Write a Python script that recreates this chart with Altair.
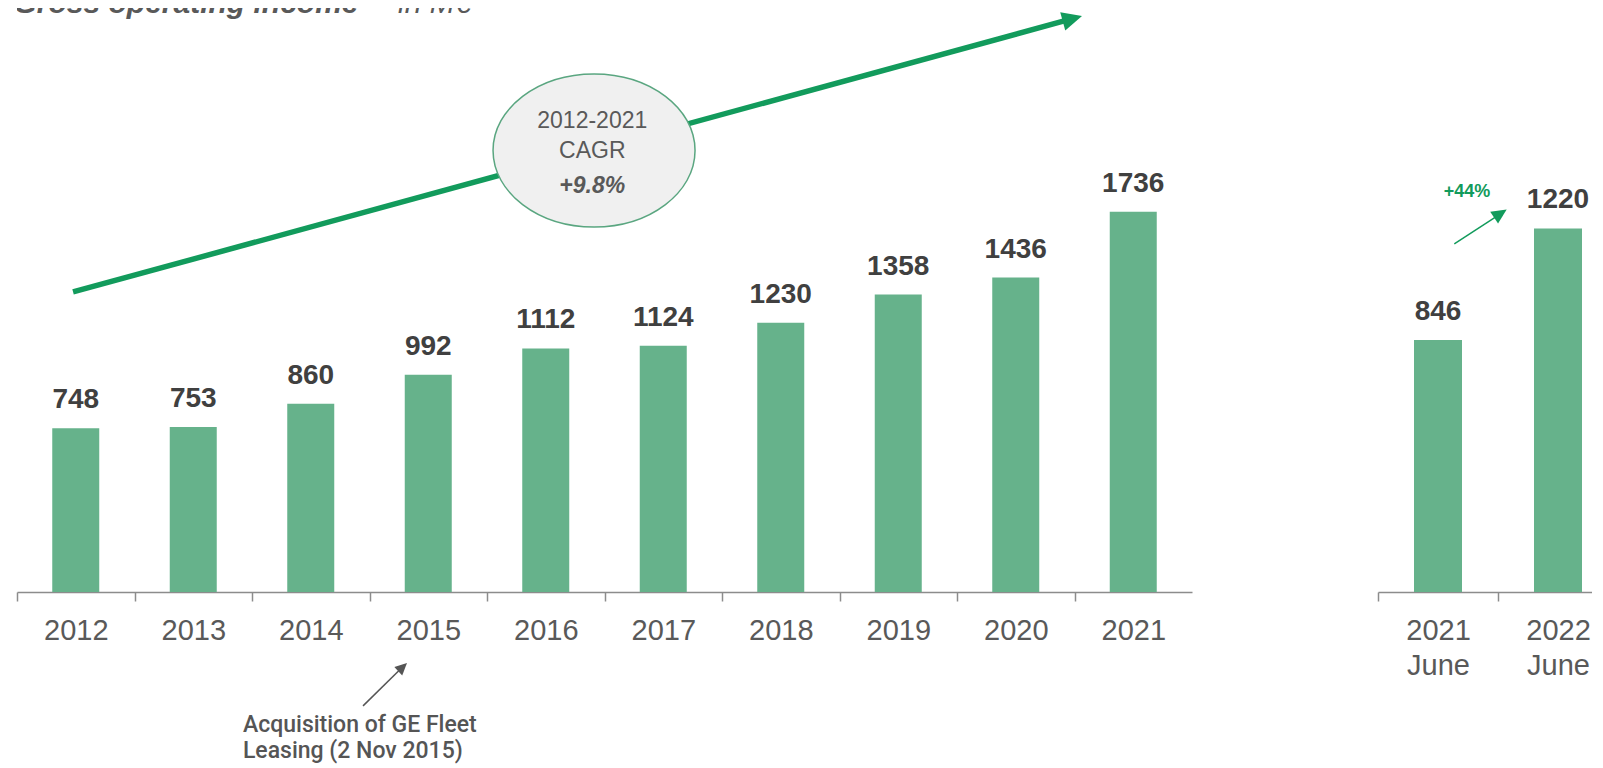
import altair as alt
import pandas as pd

# ---------------- data ----------------
years = ["2012", "2013", "2014", "2015", "2016", "2017", "2018", "2019", "2020", "2021"]
income = [748, 753, 860, 992, 1112, 1124, 1230, 1358, 1436, 1736]

half_periods = ["2021|June", "2022|June"]
half_income = [846, 1220]

title_main = ["Gross operating income"]
title_unit = ["in M€"]
cagr_lines = ["2012-2021", "CAGR"]
cagr_value = ["+9.8%"]
note_lines = ["Acquisition of GE Fleet", "Leasing (2 Nov 2015)"]
growth_label = ["+44%"]

# annotation anchors, in (bar-step index, value) units of each panel
trend_x = [0.477, 8.928]
trend_y = [1370, 2610]
trend_head = (8.982, 2618)
cagr_center = (4.911, 2016)
cagr_text_y = [2119, 1982]
cagr_value_y = [1822]
title_pos = (-0.03, 2644)
unit_pos = (3.243, 2644)
note_x = 1.923
note_y = [-639, -758]
note_arrow_x = [2.945, 3.260]
note_arrow_y = [-520, -354]
note_head = (3.282, -343)

growth_x = [0.636, 0.982]
growth_y = [1168, 1259]
growth_head = (1.020, 1270)
growth_text = (0.742, 1326)

# ---------------- styles ----------------
GREEN = "#66b28b"
ARROW = "#129b5c"
DARK = "#404040"
GREY = "#595959"
SANS = "Liberation Sans, Arial, sans-serif"
NOTE_FONT = "Roboto, Lato, sans-serif"

LEFT_W, LEFT_H = 1175, 584
RIGHT_W, RIGHT_H = 214, 584
Y_LEFT_MAX = LEFT_H / 0.219
Y_RIGHT_MAX = RIGHT_H / 0.298
L_STEP = LEFT_W / len(years)
R_STEP = 120

TRI = "M1,0L-1,-0.95L-1,0.95Z"
ELLIPSE = "M-1,0A1,0.757 0 1,0 1,0A1,0.757 0 1,0 -1,0Z"

axis_common = dict(
    title=None, labelAngle=0, grid=False,
    domainColor="#8c8c8c", domainWidth=1.5,
    tickColor="#8c8c8c", tickWidth=1.5, tickSize=9,
    labelColor=GREY, labelFont=SANS, labelFontSize=29, labelPadding=15,
)

# ---------------- left panel ----------------
df_left = pd.DataFrame({"year": years, "value": income})
yl = alt.Y("value:Q", scale=alt.Scale(domain=[0, Y_LEFT_MAX], nice=False, zero=True), axis=None)
xl = alt.X("year:N", sort=years, scale=alt.Scale(paddingInner=0.6, paddingOuter=0.3),
           axis=alt.Axis(tickOffset=-L_STEP / 2, labelOffset=L_STEP / 2, **axis_common))

bars_l = alt.Chart(df_left).mark_bar(color=GREEN).encode(x=xl, y=yl)
labels_l = alt.Chart(df_left).mark_text(
    baseline="alphabetic", dy=-20, fontSize=28, fontWeight="bold", font=SANS, color=DARK
).encode(x=xl, y=yl, text=alt.Text("value:Q", format="d"))

xq = lambda f: alt.X(f"{f}:Q", scale=alt.Scale(domain=[0, len(years)], nice=False, zero=False), axis=None)
yq = lambda f: alt.Y(f"{f}:Q", scale=alt.Scale(domain=[0, Y_LEFT_MAX], nice=False, zero=True), axis=None)

trend = alt.Chart(pd.DataFrame({"px": trend_x, "py": trend_y})).mark_line(
    color=ARROW, strokeWidth=5.5
).encode(x=xq("px"), y=yq("py"))
trend_tip = alt.Chart(pd.DataFrame({"px": [trend_head[0]], "py": [trend_head[1]]})).mark_point(
    shape=TRI, size=400, filled=True, color=ARROW, opacity=1, angle=344.7
).encode(x=xq("px"), y=yq("py"))

ellipse = alt.Chart(pd.DataFrame({"px": [cagr_center[0]], "py": [cagr_center[1]]})).mark_point(
    shape=ELLIPSE, size=(2 * 101) ** 2, filled=False, fill="#f0f0f0", fillOpacity=1,
    stroke="#5aa680", strokeWidth=1.5, strokeOpacity=1
).encode(x=xq("px"), y=yq("py"))

cagr_txt = alt.Chart(pd.DataFrame({"t": cagr_lines, "px": [cagr_center[0] - 0.015] * 2, "py": cagr_text_y})).mark_text(
    baseline="alphabetic", fontSize=23, font=SANS, color=GREY
).encode(x=xq("px"), y=yq("py"), text="t:N")
cagr_val = alt.Chart(pd.DataFrame({"t": cagr_value, "px": [cagr_center[0] - 0.015], "py": cagr_value_y})).mark_text(
    baseline="alphabetic", fontSize=23, font=SANS, fontWeight="bold", fontStyle="italic", color=GREY
).encode(x=xq("px"), y=yq("py"), text="t:N")

title1 = alt.Chart(pd.DataFrame({"t": title_main, "px": [title_pos[0]], "py": [title_pos[1]]})).mark_text(
    align="left", baseline="alphabetic", fontSize=30, font=SANS, fontWeight="bold", fontStyle="italic",
    color=GREY, clip=True
).encode(x=xq("px"), y=yq("py"), text="t:N")
title2 = alt.Chart(pd.DataFrame({"t": title_unit, "px": [unit_pos[0]], "py": [unit_pos[1]]})).mark_text(
    align="left", baseline="alphabetic", fontSize=30, font=SANS, fontStyle="italic",
    color=GREY, clip=True
).encode(x=xq("px"), y=yq("py"), text="t:N")

note = alt.Chart(pd.DataFrame({"t": note_lines, "px": [note_x] * 2, "py": note_y})).mark_text(
    align="left", baseline="alphabetic", fontSize=23, font=NOTE_FONT, fontWeight=500, color="#555555"
).encode(x=xq("px"), y=yq("py"), text="t:N")
note_line = alt.Chart(pd.DataFrame({"px": note_arrow_x, "py": note_arrow_y})).mark_line(
    color="#555555", strokeWidth=1.5
).encode(x=xq("px"), y=yq("py"))
note_tip = alt.Chart(pd.DataFrame({"px": [note_head[0]], "py": [note_head[1]]})).mark_point(
    shape=TRI, size=144, filled=True, color="#555555", opacity=1, angle=316.5
).encode(x=xq("px"), y=yq("py"))

left = alt.layer(
    alt.layer(bars_l, labels_l),
    alt.layer(trend, ellipse, trend_tip, cagr_txt, cagr_val, title1, title2, note, note_line, note_tip),
).resolve_scale(x="independent").properties(width=LEFT_W, height=LEFT_H)

# ---------------- right panel ----------------
df_right = pd.DataFrame({"period": half_periods, "value": half_income})
yr = alt.Y("value:Q", scale=alt.Scale(domain=[0, Y_RIGHT_MAX], nice=False, zero=True), axis=None)
n_r = len(half_periods)
pi_r = 0.6
po_r = (RIGHT_W / R_STEP - n_r + pi_r) / 2
align_r = 36 / (RIGHT_W - R_STEP * (n_r - pi_r))
xr = alt.X("period:N", sort=half_periods,
           scale=alt.Scale(paddingInner=pi_r, paddingOuter=po_r, align=align_r),
           axis=alt.Axis(tickOffset=-R_STEP / 2, labelOffset=R_STEP / 2,
                         labelExpr="split(datum.label, '|')", labelLineHeight=35, **axis_common))

bars_r = alt.Chart(df_right).mark_bar(color=GREEN).encode(x=xr, y=yr)
labels_r = alt.Chart(df_right).mark_text(
    baseline="alphabetic", dy=-20, fontSize=28, fontWeight="bold", font=SANS, color=DARK
).encode(x=xr, y=yr, text=alt.Text("value:Q", format="d"))

xqr = lambda f: alt.X(f"{f}:Q", scale=alt.Scale(domain=[0, RIGHT_W / R_STEP], nice=False, zero=False), axis=None)
yqr = lambda f: alt.Y(f"{f}:Q", scale=alt.Scale(domain=[0, Y_RIGHT_MAX], nice=False, zero=True), axis=None)

g_line = alt.Chart(pd.DataFrame({"px": growth_x, "py": growth_y})).mark_line(
    color=ARROW, strokeWidth=1.5
).encode(x=xqr("px"), y=yqr("py"))
g_tip = alt.Chart(pd.DataFrame({"px": [growth_head[0]], "py": [growth_head[1]]})).mark_point(
    shape=TRI, size=225, filled=True, color=ARROW, opacity=1, angle=326.7
).encode(x=xqr("px"), y=yqr("py"))
g_txt = alt.Chart(pd.DataFrame({"t": growth_label, "px": [growth_text[0]], "py": [growth_text[1]]})).mark_text(
    baseline="alphabetic", fontSize=18, fontWeight="bold", font=SANS, color=ARROW
).encode(x=xqr("px"), y=yqr("py"), text="t:N")

right = alt.layer(
    alt.layer(bars_r, labels_r),
    alt.layer(g_line, g_tip, g_txt),
).resolve_scale(x="independent").properties(width=RIGHT_W, height=RIGHT_H)

chart = alt.hconcat(left, right, spacing=186, bounds="flush").properties(
    padding={"left": 8, "top": 0, "right": 0, "bottom": 0},
    background="white",
).configure_view(stroke=None)

chart.save("out.html", embed_options={"renderer": "svg", "actions": False})
